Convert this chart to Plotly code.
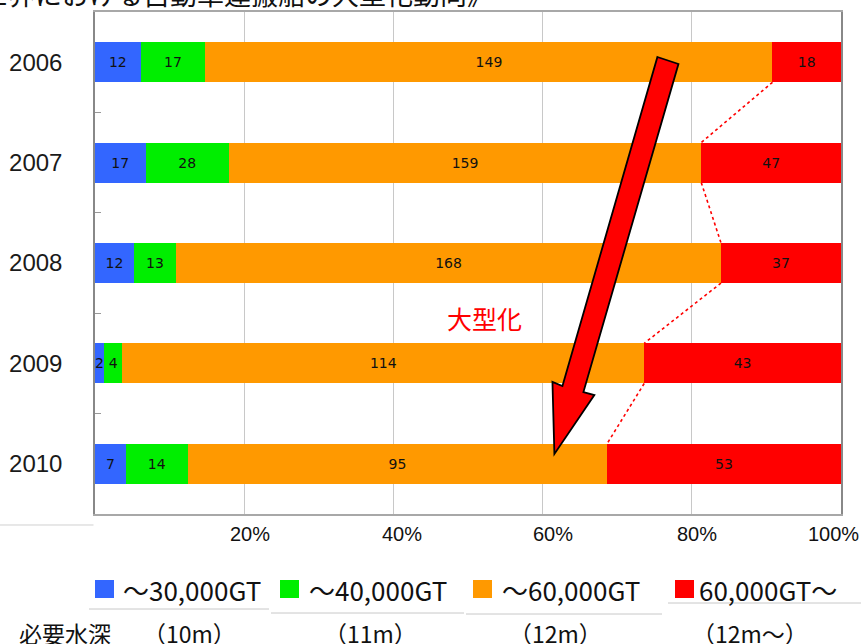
import plotly.graph_objects as go

# ---- data ----
years = ["2006", "2007", "2008", "2009", "2010"]
series_names = ["～30,000GT", "～40,000GT", "～60,000GT", "60,000GT～"]
depths = ["（10m）", "（11m）", "（12m）", "（12m～）"]
v_30k = [12, 17, 12, 2, 7]
v_40k = [17, 28, 13, 4, 14]
v_60k = [149, 159, 168, 114, 95]
v_over = [18, 47, 37, 43, 53]
series_values = [v_30k, v_40k, v_60k, v_over]
colors = ["#3366FF", "#00EE00", "#FF9900", "#FF0000"]
x_ticks = [20, 40, 60, 80, 100]
x_tick_text = ["20%", "40%", "60%", "80%", "100%"]

ypos = list(range(len(years)))
BAR_W = 0.4

fig = go.Figure()
for name, vals, col in zip(series_names, series_values, colors):
    fig.add_trace(go.Bar(
        y=ypos, x=vals, orientation="h", name=name, width=BAR_W,
        marker=dict(color=col, line=dict(width=0)),
        text=[str(v) for v in vals], textposition="inside",
        insidetextanchor="middle", textangle=0,
        textfont=dict(family="DejaVu Sans", size=14, color="#111111"),
        showlegend=False, hoverinfo="skip",
    ))

# series lines between orange/red boundaries (computed from data)
totals = [sum(s[i] for s in series_values) for i in range(len(years))]
bounds = [100.0 * (v_30k[i] + v_40k[i] + v_60k[i]) / totals[i] for i in range(len(years))]
sx, sy = [], []
for i in range(len(years) - 1):
    sx += [bounds[i], bounds[i + 1], None]
    sy += [i + BAR_W / 2, i + 1 - BAR_W / 2, None]
fig.add_trace(go.Scatter(x=sx, y=sy, mode="lines", showlegend=False, hoverinfo="skip",
                         line=dict(color="#FF0000", width=1.6, dash="dot")))

fig.update_layout(
    width=861, height=644,
    barmode="stack", barnorm="percent",
    margin=dict(l=95, r=20, t=12, b=130),
    paper_bgcolor="white", plot_bgcolor="white",
    uniformtext=dict(minsize=14, mode="show"),
    showlegend=False,
    font=dict(family="Liberation Sans, Arial", color="#111111"),
)
fig.update_xaxes(
    range=[0, 100], tickvals=x_ticks, showticklabels=False, automargin=False,
    showgrid=True, gridcolor="#C8C8C8", gridwidth=1.2, zeroline=False,
    showline=True, linecolor="#A8A8A8", linewidth=1.5, mirror=True, ticks="",
)
fig.update_yaxes(
    range=[len(years) - 0.5, -0.5], tickvals=ypos, ticktext=years, automargin=False,
    showgrid=False, zeroline=False,
    showline=True, linecolor="#888888", linewidth=1.5, mirror=True,
    ticks="", tickfont=dict(size=24, color="#1a1a1a"), ticklabelstandoff=26,
    minor=dict(tickmode="array", tickvals=[i + 0.5 for i in range(len(years) - 1)],
               ticks="inside", ticklen=6, tickcolor="#999999", tickwidth=1.2),
)

# x tick labels (placed at tick values, slightly offset as in the original)
label_shift = [6, 9, 10, 5, 20]
for i, (v, t) in enumerate(zip(x_ticks, x_tick_text)):
    last = i == len(x_ticks) - 1
    fig.add_annotation(x=v, y=0, xref="x", yref="paper", text=t, showarrow=False,
                       xanchor="right" if last else "center", yanchor="top",
                       xshift=label_shift[i], yshift=-7,
                       font=dict(family="Liberation Sans, Arial", size=20, color="#111111"))

# big red arrow (decoration)
arrow = "M 75.39,-0.052 L 78.21,0.018 L 65.47,3.285 L 66.94,3.315 L 61.58,3.902 L 61.32,3.185 L 62.66,3.225 Z"
fig.add_shape(type="path", path=arrow, xref="x", yref="y",
              fillcolor="#FF0000", line=dict(color="black", width=1.8), layer="above")

fig.add_annotation(x=52.2, y=2.548, xref="x", yref="y", text="大型化", showarrow=False,
                   font=dict(family="Noto Sans CJK JP", size=25, color="#FF0000"))

# cut-off title at top
fig.add_annotation(x=-0.192, y=1.0378, xref="paper", yref="paper", xanchor="left", yanchor="middle",
                   text="《世界における自動車運搬船の大型化動向》", showarrow=False,
                   font=dict(family="Noto Sans CJK JP", size=27, color="#111111"))

# left rule under axis
fig.add_shape(type="line", xref="paper", yref="paper", x0=-0.13, x1=-0.002, y0=-0.0219, y1=-0.0219,
              line=dict(color="#D0D0D0", width=1))

# custom legend
PX_W, PX_H, X0PX, YBOT = 746.0, 502.0, 95.0, 514.0
def px(xp):
    return (xp - X0PX) / PX_W
def py(yp):
    return (YBOT - yp) / PX_H

sq_left = [95, 280, 473, 675]
txt_left = [121, 307, 500, 697]
rule_spans = [(89, 269, 609), (271, 464, 613), (466, 662, 614), (668, 861, 603)]
for i, name in enumerate(series_names):
    fig.add_shape(type="rect", xref="paper", yref="paper",
                  x0=px(sq_left[i]), x1=px(sq_left[i] + 19), y0=py(598), y1=py(580),
                  fillcolor=colors[i], line=dict(width=0))
    fig.add_annotation(x=px(txt_left[i]), y=py(589), xref="paper", yref="paper",
                       xanchor="left", yanchor="middle", text=name, showarrow=False,
                       font=dict(family="Noto Sans CJK JP", size=26, color="#111111"))
    a, b, yy = rule_spans[i]
    fig.add_shape(type="line", xref="paper", yref="paper", x0=px(a), x1=px(b), y0=py(yy), y1=py(yy),
                  line=dict(color="#C8C8C8", width=1))

fig.add_annotation(x=px(17), y=py(633), xref="paper", yref="paper", xanchor="left", yanchor="middle",
                   text="必要水深", showarrow=False,
                   font=dict(family="Noto Sans CJK JP", size=23, color="#111111"))
depth_centers = [189, 370, 555, 750]
for c, d in zip(depth_centers, depths):
    fig.add_annotation(x=px(c), y=py(633), xref="paper", yref="paper", xanchor="center", yanchor="middle",
                       text=d, showarrow=False,
                       font=dict(family="Noto Sans CJK JP", size=23, color="#111111"))

fig.write_html("out.html", config={"displayModeBar": False},
               post_script="document.body.style.margin='0';")
